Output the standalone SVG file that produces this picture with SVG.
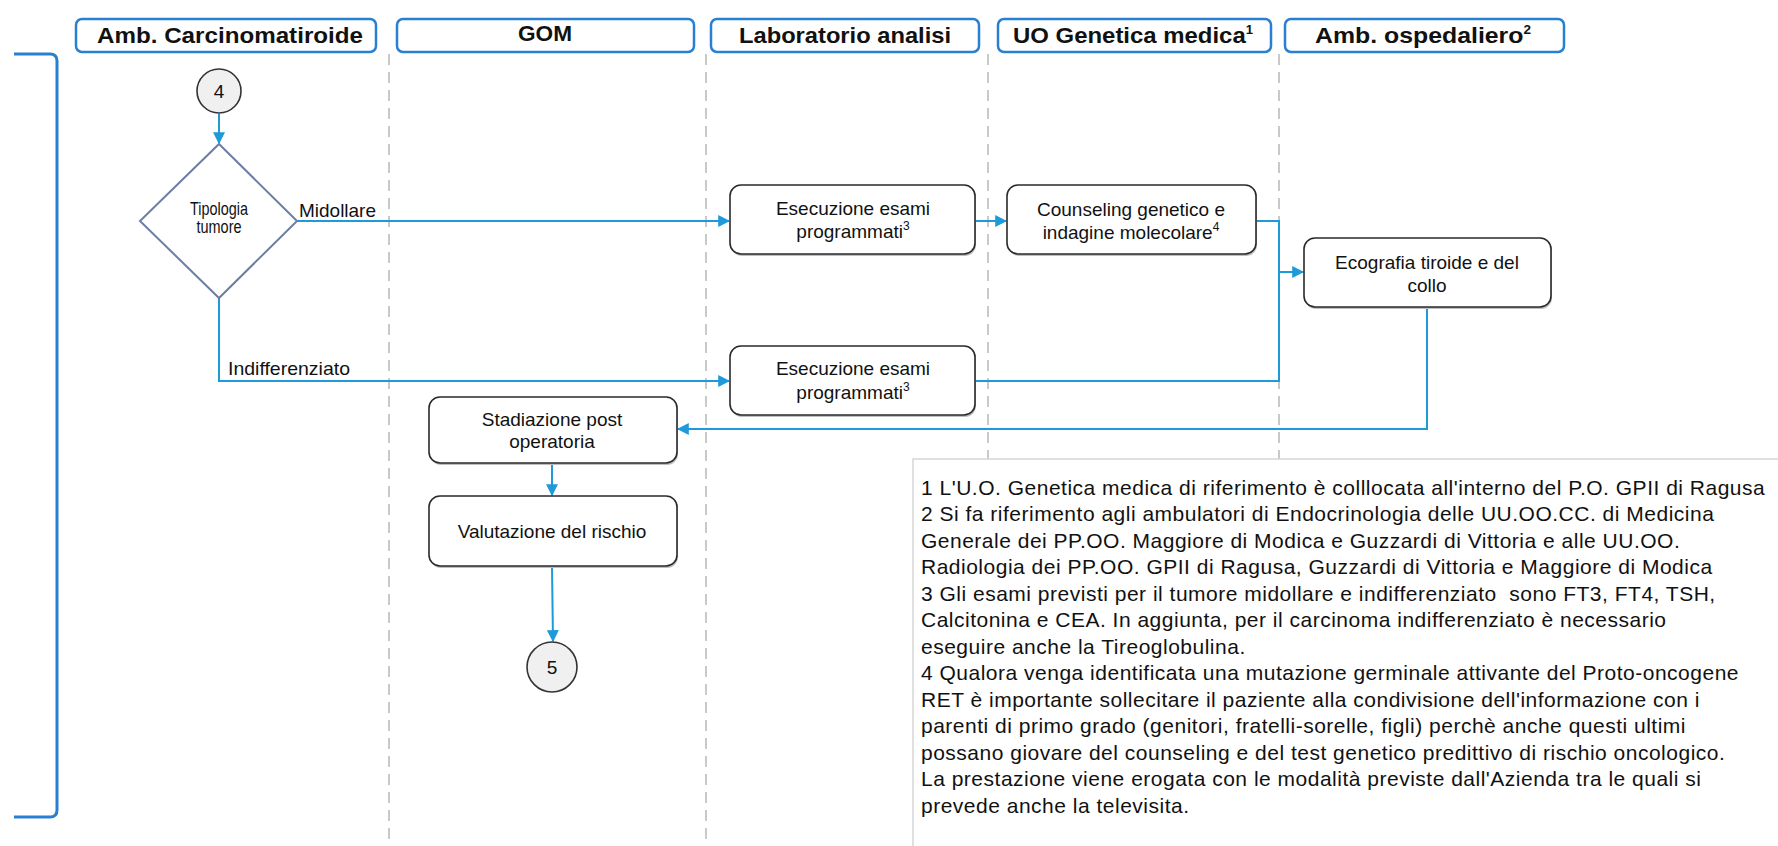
<svg xmlns="http://www.w3.org/2000/svg" width="1778" height="846" viewBox="0 0 1778 846">
  <style>
    .lane { stroke: #c9c9c9; stroke-width: 2; stroke-dasharray: 11 7; fill: none; }
    .hdr { fill: #ffffff; stroke: #2b7fd0; stroke-width: 2.5; }
    .hdrtxt { font-family: "Liberation Sans", Arial, sans-serif; font-weight: bold; font-size: 22px; fill: #111; text-anchor: middle; }
    .box { fill: #ffffff; stroke: #2a2a2a; stroke-width: 1.6; }
    .shadow { fill: #bdbdbd; }
    .txt { font-family: "Liberation Sans", Arial, sans-serif; font-size: 19px; fill: #111; text-anchor: middle; }
    .lbl { font-family: "Liberation Sans", Arial, sans-serif; font-size: 19px; fill: #111; }
    .conn { stroke: #1f9ad8; stroke-width: 2; fill: none; }
    .note { font-family: "Liberation Sans", Arial, sans-serif; font-size: 21px; letter-spacing: 0.5px; fill: #111; }
    .sup { font-size: 12px; }
  </style>
  <defs>
    <marker id="arrow" viewBox="0 0 10 10" refX="9" refY="5" markerWidth="6" markerHeight="6" orient="auto" markerUnits="strokeWidth">
      <path d="M0,0 L10,5 L0,10 z" fill="#1f9ad8"/>
    </marker>
  </defs>

  <rect width="1778" height="846" fill="#ffffff"/>

  <!-- swimlane separators -->
  <g id="lanes">
    <line class="lane" x1="389" y1="54" x2="389" y2="846"/>
    <line class="lane" x1="706" y1="54" x2="706" y2="846"/>
    <line class="lane" x1="988" y1="54" x2="988" y2="846"/>
    <line class="lane" x1="1279" y1="54" x2="1279" y2="846"/>
  </g>

  <!-- lane headers -->
  <g id="header-amb-carcinoma">
    <rect class="hdr" x="76" y="19" width="300" height="33" rx="6"/>
    <text class="hdrtxt" x="230" y="43" textLength="266" lengthAdjust="spacingAndGlyphs">Amb. Carcinomatiroide</text>
  </g>
  <g id="header-gom">
    <rect class="hdr" x="397" y="19" width="297" height="33" rx="6"/>
    <text class="hdrtxt" x="545" y="41" textLength="54" lengthAdjust="spacingAndGlyphs">GOM</text>
  </g>
  <g id="header-laboratorio">
    <rect class="hdr" x="711" y="19" width="268" height="33" rx="6"/>
    <text class="hdrtxt" x="845" y="43" textLength="212" lengthAdjust="spacingAndGlyphs">Laboratorio analisi</text>
  </g>
  <g id="header-genetica">
    <rect class="hdr" x="998" y="19" width="273" height="33" rx="6"/>
    <text class="hdrtxt" x="1133" y="43" textLength="240" lengthAdjust="spacingAndGlyphs">UO Genetica medica<tspan class="sup" dy="-9">1</tspan></text>
  </g>
  <g id="header-amb-ospedaliero">
    <rect class="hdr" x="1285" y="19" width="279" height="33" rx="6"/>
    <text class="hdrtxt" x="1423" y="43" textLength="216" lengthAdjust="spacingAndGlyphs">Amb. ospedaliero<tspan class="sup" dy="-9">2</tspan></text>
  </g>

  <!-- side bracket -->
  <g id="bracket">
    <path d="M14,54 H50 Q57,54 57,61 V810 Q57,817 50,817 H14" fill="none" stroke="#2b7fd0" stroke-width="3"/>
  </g>

  <!-- connectors -->
  <g id="connectors">
    <line class="conn" x1="219" y1="114" x2="219" y2="143" marker-end="url(#arrow)"/>
    <line class="conn" x1="297" y1="221" x2="729" y2="221" marker-end="url(#arrow)"/>
    <line class="conn" x1="975" y1="221" x2="1006" y2="221" marker-end="url(#arrow)"/>
    <polyline class="conn" points="219,297 219,381 729,381" marker-end="url(#arrow)"/>
    <polyline class="conn" points="1256,221 1279,221 1279,272 1303,272" marker-end="url(#arrow)"/>
    <polyline class="conn" points="975,381 1279,381 1279,272"/>
    <polyline class="conn" points="1427,307 1427,429 678,429" marker-end="url(#arrow)"/>
    <line class="conn" x1="552" y1="463" x2="552" y2="495" marker-end="url(#arrow)"/>
    <line class="conn" x1="552" y1="567" x2="553" y2="641" marker-end="url(#arrow)"/>
    <text class="lbl" x="299" y="217" textLength="77" lengthAdjust="spacingAndGlyphs">Midollare</text>
    <text class="lbl" x="228" y="375" textLength="122" lengthAdjust="spacingAndGlyphs">Indifferenziato</text>
  </g>

  <!-- nodes -->
  <g id="connector-4">
    <circle cx="219" cy="91" r="22" fill="#f0f0f0" stroke="#333" stroke-width="1.6"/>
    <text class="txt" x="219" y="98">4</text>
  </g>
  <g id="decision-tipologia">
    <polygon points="219,144 297,221 219,298 140,221" fill="#ffffff" stroke="#6b7fa3" stroke-width="2"/>
    <text class="txt" x="219" y="215" font-size="15" textLength="58" lengthAdjust="spacingAndGlyphs">Tipologia</text>
    <text class="txt" x="219" y="233" font-size="15" textLength="45" lengthAdjust="spacingAndGlyphs">tumore</text>
  </g>
  <g id="esami-midollare">
    <rect class="shadow" x="731" y="186" width="245" height="70" rx="11"/>
    <rect class="box" x="730" y="185" width="245" height="69" rx="11"/>
    <text class="txt" x="853" y="215">Esecuzione esami</text>
    <text class="txt" x="853" y="238">programmati<tspan class="sup" dy="-8">3</tspan></text>
  </g>
  <g id="counseling">
    <rect class="shadow" x="1008" y="186" width="249" height="70" rx="11"/>
    <rect class="box" x="1007" y="185" width="249" height="69" rx="11"/>
    <text class="txt" x="1131" y="216">Counseling genetico e</text>
    <text class="txt" x="1131" y="239">indagine molecolare<tspan class="sup" dy="-8">4</tspan></text>
  </g>
  <g id="ecografia">
    <rect class="shadow" x="1305" y="239" width="247" height="70" rx="11"/>
    <rect class="box" x="1304" y="238" width="247" height="69" rx="11"/>
    <text class="txt" x="1427" y="269">Ecografia tiroide e del</text>
    <text class="txt" x="1427" y="292">collo</text>
  </g>
  <g id="esami-indifferenziato">
    <rect class="shadow" x="731" y="347" width="245" height="70" rx="11"/>
    <rect class="box" x="730" y="346" width="245" height="69" rx="11"/>
    <text class="txt" x="853" y="375">Esecuzione esami</text>
    <text class="txt" x="853" y="399">programmati<tspan class="sup" dy="-8">3</tspan></text>
  </g>
  <g id="stadiazione">
    <rect class="shadow" x="430" y="398" width="248" height="67" rx="11"/>
    <rect class="box" x="429" y="397" width="248" height="66" rx="11"/>
    <text class="txt" x="552" y="426">Stadiazione post</text>
    <text class="txt" x="552" y="448">operatoria</text>
  </g>
  <g id="valutazione">
    <rect class="shadow" x="430" y="497" width="248" height="71" rx="11"/>
    <rect class="box" x="429" y="496" width="248" height="70" rx="11"/>
    <text class="txt" x="552" y="538">Valutazione del rischio</text>
  </g>
  <g id="connector-5">
    <circle cx="552" cy="667" r="25" fill="#f0f0f0" stroke="#333" stroke-width="1.6"/>
    <text class="txt" x="552" y="674">5</text>
  </g>

  <!-- footnotes -->
  <g id="notes">
    <rect x="913" y="459" width="870" height="395" fill="#ffffff" stroke="#d6d6d6" stroke-width="1.5"/>
    <text class="note" x="921" y="495">1 L'U.O. Genetica medica di riferimento è colllocata all'interno del P.O. GPII di Ragusa</text>
    <text class="note" x="921" y="521">2 Si fa riferimento agli ambulatori di Endocrinologia delle UU.OO.CC. di Medicina</text>
    <text class="note" x="921" y="548">Generale dei PP.OO. Maggiore di Modica e Guzzardi di Vittoria e alle UU.OO.</text>
    <text class="note" x="921" y="574">Radiologia dei PP.OO. GPII di Ragusa, Guzzardi di Vittoria e Maggiore di Modica</text>
    <text class="note" x="921" y="601" xml:space="preserve">3 Gli esami previsti per il tumore midollare e indifferenziato  sono FT3, FT4, TSH,</text>
    <text class="note" x="921" y="627">Calcitonina e CEA. In aggiunta, per il carcinoma indifferenziato è necessario</text>
    <text class="note" x="921" y="654">eseguire anche la Tireoglobulina.</text>
    <text class="note" x="921" y="680">4 Qualora venga identificata una mutazione germinale attivante del Proto-oncogene</text>
    <text class="note" x="921" y="707">RET è importante sollecitare il paziente alla condivisione dell'informazione con i</text>
    <text class="note" x="921" y="733">parenti di primo grado (genitori, fratelli-sorelle, figli) perchè anche questi ultimi</text>
    <text class="note" x="921" y="760">possano giovare del counseling e del test genetico predittivo di rischio oncologico.</text>
    <text class="note" x="921" y="786">La prestazione viene erogata con le modalità previste dall'Azienda tra le quali si</text>
    <text class="note" x="921" y="813">prevede anche la televisita.</text>
  </g>
</svg>
